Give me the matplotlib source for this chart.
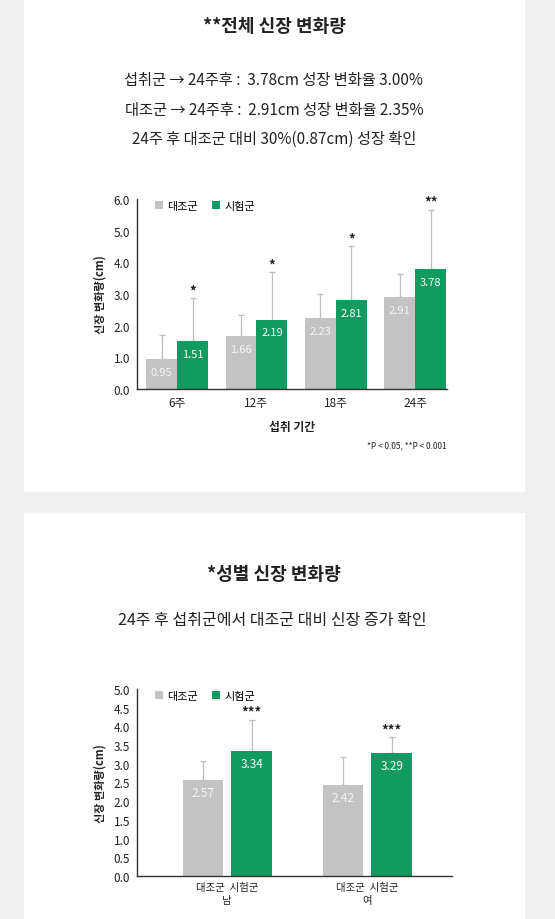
import matplotlib
matplotlib.use('Agg')
import matplotlib.pyplot as plt
from matplotlib.patches import Rectangle
import numpy as np

plt.rcParams['font.family'] = ['Noto Sans CJK KR', 'DejaVu Sans']

W, H = 555, 920

# chart 1 data
periods = ['6주', '12주', '18주', '24주']
ctrl_1 = [0.95, 1.66, 2.23, 2.91]
test_1 = [1.51, 2.19, 2.81, 3.78]
ctrl_1_err = [0.76, 0.69, 0.76, 0.73]
test_1_err = [1.35, 1.49, 1.70, 1.88]
stars_1 = ['*', '*', '*', '**']

# chart 2 data
sexes = ['남', '여']
ctrl_2 = [2.57, 2.42]
test_2 = [3.34, 3.29]
ctrl_2_err = [0.50, 0.76]
test_2_err = [0.83, 0.42]
stars_2 = ['***', '***']

GRAY = '#c3c3c3'
GREEN = '#129a60'
ERR = '#bdbdbd'
TXT = '#222222'


def fx(px):
    return px / W


def fy(py):
    return 1 - py / H


fig = plt.figure(figsize=(W / 100, H / 100), dpi=100)
fig.patch.set_facecolor('#efefef')
fig.patches.append(Rectangle((fx(24), fy(492)), fx(500), 492 / H,
                             transform=fig.transFigure, color='white', zorder=-5))
fig.patches.append(Rectangle((fx(24), 0), fx(500), (920 - 514) / H,
                             transform=fig.transFigure, color='white', zorder=-5))

# headings
fig.text(fx(274), fy(26), '**전체 신장 변화량', ha='center', va='center',
         fontsize=13, fontweight='bold', color=TXT)
sub = ['섭취군 → 24주후 :  3.78cm 성장 변화율 3.00%',
       '대조군 → 24주후 :  2.91cm 성장 변화율 2.35%',
       '24주 후 대조군 대비 30%(0.87cm) 성장 확인']
for i, s in enumerate(sub):
    fig.text(fx(274), fy(81 + i * 29), s, ha='center', va='center',
             fontsize=11, color=TXT)
fig.text(fx(274), fy(575), '*성별 신장 변화량', ha='center', va='center',
         fontsize=13, fontweight='bold', color=TXT)
fig.text(fx(272), fy(620), '24주 후 섭취군에서 대조군 대비 신장 증가 확인',
         ha='center', va='center', fontsize=11.5, color=TXT)


def style_axes(ax):
    for s in ['top', 'right']:
        ax.spines[s].set_visible(False)
    for s in ['left', 'bottom']:
        ax.spines[s].set_color('#333333')
        ax.spines[s].set_linewidth(1.0)
    ax.tick_params(length=0, labelsize=8.5, colors=TXT)
    ax.set_facecolor('none')


# ---- chart 1
ax1 = fig.add_axes([fx(137), fy(390), fx(310), 190 / H])
x = np.arange(len(periods))
bw = 0.39
xc = x - bw / 2
xt = x + bw / 2
b1 = ax1.bar(xc, ctrl_1, bw, color=GRAY, label='대조군', zorder=2)
b2 = ax1.bar(xt, test_1, bw, color=GREEN, label='시험군', zorder=2)
ax1.errorbar(xc, ctrl_1, yerr=[np.zeros(4), ctrl_1_err], fmt='none',
             ecolor=ERR, elinewidth=0.9, capsize=2, capthick=0.9, zorder=1)
ax1.errorbar(xt, test_1, yerr=[np.zeros(4), test_1_err], fmt='none',
             ecolor=ERR, elinewidth=0.9, capsize=2, capthick=0.9, zorder=1)
for i in range(4):
    ax1.text(xc[i], ctrl_1[i] - 0.4, f'{ctrl_1[i]:.2f}', ha='center',
             va='center', color='#f4f4f4', fontsize=8, zorder=3)
    ax1.text(xt[i], test_1[i] - 0.4, f'{test_1[i]:.2f}', ha='center',
             va='center', color='white', fontsize=8, zorder=3)
    ax1.text(xt[i], test_1[i] + test_1_err[i] + 0.03, stars_1[i],
             ha='center', va='bottom', fontsize=9.5, fontweight='bold',
             color=TXT)
ax1.set_xlim(-0.505, 3.4)
ax1.set_ylim(0, 6)
ax1.set_yticks(np.arange(0, 6.1, 1.0))
ax1.set_yticklabels([f'{v:.1f}' for v in np.arange(0, 6.1, 1.0)])
ax1.set_xticks(x)
ax1.set_xticklabels(periods)
style_axes(ax1)
ax1.tick_params(axis='y', pad=5)
ax1.tick_params(axis='x', pad=5)
ax1.set_xlabel('섭취 기간', fontsize=8.5, fontweight='bold', color=TXT, labelpad=8)
ax1.set_ylabel('신장 변화량(cm)', fontsize=8, fontweight='bold', color=TXT, labelpad=5)
ax1.legend(handles=[b1, b2], loc='upper left', bbox_to_anchor=(0.025, 1.045),
           ncol=2, frameon=False, fontsize=8, handlelength=0.7,
           handleheight=0.7, handletextpad=0.4, columnspacing=1.3)
fig.text(fx(447), fy(446), '*P < 0.05, **P < 0.001', ha='right', va='center',
         fontsize=6, style='italic', color=TXT)

# ---- chart 2
ax2 = fig.add_axes([fx(137), fy(877), fx(315), 187 / H])
x2 = np.arange(len(sexes))
bw2 = 0.29
off = 0.174
xc2 = x2 - off
xt2 = x2 + off
c1 = ax2.bar(xc2, ctrl_2, bw2, color=GRAY, label='대조군', zorder=2)
c2 = ax2.bar(xt2, test_2, bw2, color=GREEN, label='시험군', zorder=2)
ax2.errorbar(xc2, ctrl_2, yerr=[np.zeros(2), ctrl_2_err], fmt='none',
             ecolor=ERR, elinewidth=0.9, capsize=2, capthick=0.9, zorder=1)
ax2.errorbar(xt2, test_2, yerr=[np.zeros(2), test_2_err], fmt='none',
             ecolor=ERR, elinewidth=0.9, capsize=2, capthick=0.9, zorder=1)
for i in range(2):
    ax2.text(xc2[i], ctrl_2[i] - 0.33, f'{ctrl_2[i]:.2f}', ha='center',
             va='center', color='#f4f4f4', fontsize=8.5, zorder=3)
    ax2.text(xt2[i], test_2[i] - 0.33, f'{test_2[i]:.2f}', ha='center',
             va='center', color='white', fontsize=8.5, zorder=3)
    ax2.text(xt2[i], test_2[i] + test_2_err[i] + 0.03, stars_2[i],
             ha='center', va='bottom', fontsize=9.5, fontweight='bold',
             color=TXT)
ax2.set_xlim(-0.644, 1.604)
ax2.set_ylim(0, 5)
yt2 = np.arange(0, 5.01, 0.5)
ax2.set_yticks(yt2)
ax2.set_yticklabels([f'{v:.1f}' for v in yt2])
ax2.set_xticks(x2)
ax2.set_xticklabels(['대조군  시험군\n' + s for s in sexes], fontsize=7.5,
                    linespacing=1.45)
style_axes(ax2)
ax2.tick_params(axis='x', labelsize=7.5, pad=4)
ax2.tick_params(axis='y', pad=5)
ax2.set_ylabel('신장 변화량(cm)', fontsize=8, fontweight='bold', color=TXT, labelpad=5)
ax2.legend(handles=[c1, c2], loc='upper left', bbox_to_anchor=(0.025, 1.045),
           ncol=2, frameon=False, fontsize=8, handlelength=0.7,
           handleheight=0.7, handletextpad=0.4, columnspacing=1.3)

plt.savefig('out.png', dpi=100, facecolor=fig.get_facecolor())
